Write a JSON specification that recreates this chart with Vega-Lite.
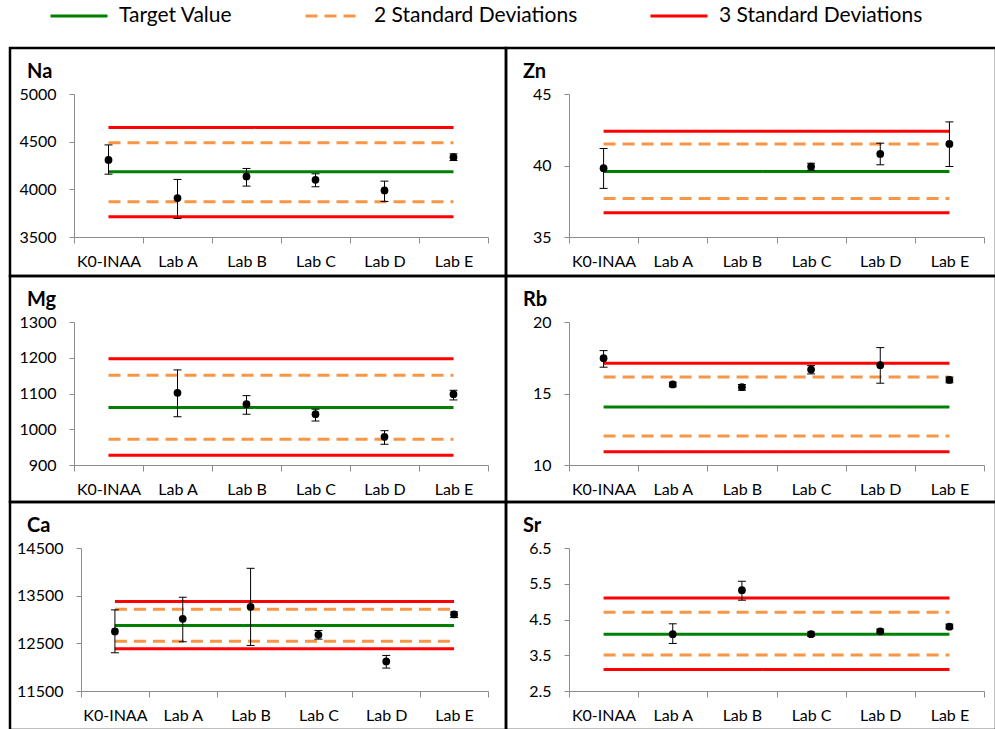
{
  "$schema": "https://vega.github.io/schema/vega-lite/v6.json",
  "padding": {"left": 8, "top": -14, "right": -3, "bottom": -3},
  "spacing": 0,
  "bounds": "flush",
  "columns": 2,
  "align": "each",
  "datasets": {
    "pts": [
      {"el": "Na", "lab": "K0-INAA", "v": 4309, "lo": 4159, "hi": 4466},
      {"el": "Na", "lab": "Lab A", "v": 3908, "lo": 3695, "hi": 4104},
      {"el": "Na", "lab": "Lab B", "v": 4135, "lo": 4034, "hi": 4219},
      {"el": "Na", "lab": "Lab C", "v": 4100, "lo": 4027, "hi": 4163},
      {"el": "Na", "lab": "Lab D", "v": 3988, "lo": 3873, "hi": 4086},
      {"el": "Na", "lab": "Lab E", "v": 4337, "lo": 4302, "hi": 4372},
      {"el": "Zn", "lab": "K0-INAA", "v": 39.81, "lo": 38.4, "hi": 41.19},
      {"el": "Zn", "lab": "Lab C", "v": 39.93, "lo": 39.67, "hi": 40.16},
      {"el": "Zn", "lab": "Lab D", "v": 40.81, "lo": 40.05, "hi": 41.56},
      {"el": "Zn", "lab": "Lab E", "v": 41.51, "lo": 39.93, "hi": 43.05},
      {"el": "Mg", "lab": "Lab A", "v": 1102, "lo": 1035, "hi": 1166},
      {"el": "Mg", "lab": "Lab B", "v": 1070, "lo": 1042, "hi": 1094},
      {"el": "Mg", "lab": "Lab C", "v": 1042, "lo": 1023, "hi": 1056},
      {"el": "Mg", "lab": "Lab D", "v": 979, "lo": 958, "hi": 996},
      {"el": "Mg", "lab": "Lab E", "v": 1098, "lo": 1082, "hi": 1109},
      {"el": "Rb", "lab": "K0-INAA", "v": 17.47, "lo": 16.84, "hi": 18.0},
      {"el": "Rb", "lab": "Lab A", "v": 15.63, "lo": 15.47, "hi": 15.79},
      {"el": "Rb", "lab": "Lab B", "v": 15.44, "lo": 15.23, "hi": 15.63},
      {"el": "Rb", "lab": "Lab C", "v": 16.67, "lo": 16.37, "hi": 16.95},
      {"el": "Rb", "lab": "Lab D", "v": 16.98, "lo": 15.72, "hi": 18.21},
      {"el": "Rb", "lab": "Lab E", "v": 15.95, "lo": 15.75, "hi": 16.15},
      {"el": "Ca", "lab": "K0-INAA", "v": 12749, "lo": 12302, "hi": 13202},
      {"el": "Ca", "lab": "Lab A", "v": 13014, "lo": 12533, "hi": 13467},
      {"el": "Ca", "lab": "Lab B", "v": 13265, "lo": 12456, "hi": 14074},
      {"el": "Ca", "lab": "Lab C", "v": 12679, "lo": 12588, "hi": 12770},
      {"el": "Ca", "lab": "Lab D", "v": 12121, "lo": 11981, "hi": 12246},
      {"el": "Ca", "lab": "Lab E", "v": 13105, "lo": 13042, "hi": 13160},
      {"el": "Sr", "lab": "Lab A", "v": 4.09, "lo": 3.83, "hi": 4.38},
      {"el": "Sr", "lab": "Lab B", "v": 5.32, "lo": 5.04, "hi": 5.57},
      {"el": "Sr", "lab": "Lab C", "v": 4.09, "lo": 4.03, "hi": 4.15},
      {"el": "Sr", "lab": "Lab D", "v": 4.17, "lo": 4.12, "hi": 4.23},
      {"el": "Sr", "lab": "Lab E", "v": 4.30, "lo": 4.24, "hi": 4.37}
    ],
    "lines": [
      {"el": "Na", "series": "Target Value", "y": 4184},
      {"el": "Na", "series": "2 Standard Deviations", "y": 4488},
      {"el": "Na", "series": "2 Standard Deviations", "y": 3870},
      {"el": "Na", "series": "3 Standard Deviations", "y": 4648},
      {"el": "Na", "series": "3 Standard Deviations", "y": 3713},
      {"el": "Zn", "series": "Target Value", "y": 39.58},
      {"el": "Zn", "series": "2 Standard Deviations", "y": 41.51},
      {"el": "Zn", "series": "2 Standard Deviations", "y": 37.7},
      {"el": "Zn", "series": "3 Standard Deviations", "y": 42.4},
      {"el": "Zn", "series": "3 Standard Deviations", "y": 36.7},
      {"el": "Mg", "series": "Target Value", "y": 1061},
      {"el": "Mg", "series": "2 Standard Deviations", "y": 1151},
      {"el": "Mg", "series": "2 Standard Deviations", "y": 972},
      {"el": "Mg", "series": "3 Standard Deviations", "y": 1197},
      {"el": "Mg", "series": "3 Standard Deviations", "y": 927},
      {"el": "Rb", "series": "Target Value", "y": 14.05},
      {"el": "Rb", "series": "2 Standard Deviations", "y": 16.16},
      {"el": "Rb", "series": "2 Standard Deviations", "y": 12.02},
      {"el": "Rb", "series": "3 Standard Deviations", "y": 17.12},
      {"el": "Rb", "series": "3 Standard Deviations", "y": 10.93},
      {"el": "Ca", "series": "Target Value", "y": 12874},
      {"el": "Ca", "series": "2 Standard Deviations", "y": 13216},
      {"el": "Ca", "series": "2 Standard Deviations", "y": 12546},
      {"el": "Ca", "series": "3 Standard Deviations", "y": 13377},
      {"el": "Ca", "series": "3 Standard Deviations", "y": 12386},
      {"el": "Sr", "series": "Target Value", "y": 4.09},
      {"el": "Sr", "series": "2 Standard Deviations", "y": 4.7},
      {"el": "Sr", "series": "2 Standard Deviations", "y": 3.51},
      {"el": "Sr", "series": "3 Standard Deviations", "y": 5.1},
      {"el": "Sr", "series": "3 Standard Deviations", "y": 3.1}
    ]
  },
  "resolve": {"scale": {"x": "independent", "y": "independent", "color": "shared", "strokeDash": "shared"}},
  "concat": [
    {
      "width": 496, "height": 228,
      "title": {"text": "Na", "dx": 17, "offset": -34},
      "layer": [
        {"data": {"name": "lines"}, "transform": [{"filter": "datum.el === 'Na'"}],
         "mark": {"type": "rule", "strokeWidth": 3},
         "encoding": {
           "x": {"datum": "K0-INAA", "type": "nominal", "title": null, "scale": {"type": "band", "domain": ["K0-INAA", "Lab A", "Lab B", "Lab C", "Lab D", "Lab E"], "range": [64, 478], "paddingInner": 0, "paddingOuter": 0}, "axis": {"offset": -39}},
           "x2": {"datum": "Lab E"},
           "y": {"field": "y", "type": "quantitative", "title": null, "scale": {"domain": [3500, 5000], "range": [189, 46], "nice": false, "zero": false}, "axis": {"values": [3500, 4000, 4500, 5000], "format": "d", "offset": -64}},
           "color": {"field": "series", "type": "nominal", "title": null, "scale": {"domain": ["Target Value", "2 Standard Deviations", "3 Standard Deviations"], "range": ["#008000", "#F79646", "#FF0000"]}},
           "strokeDash": {"field": "series", "type": "nominal", "title": null, "scale": {"domain": ["Target Value", "2 Standard Deviations", "3 Standard Deviations"], "range": [[1, 0], [12, 7], [1, 0]]}}
         }},
        {"data": {"name": "pts"}, "transform": [{"filter": "datum.el === 'Na'"}],
         "mark": {"type": "rule", "color": "black", "strokeWidth": 1},
         "encoding": {"x": {"field": "lab", "type": "nominal", "title": null}, "y": {"field": "lo", "type": "quantitative", "title": null}, "y2": {"field": "hi"}}},
        {"data": {"name": "pts"}, "transform": [{"filter": "datum.el === 'Na'"}],
         "mark": {"type": "tick", "orient": "horizontal", "size": 8, "thickness": 1, "color": "black", "opacity": 1},
         "encoding": {"x": {"field": "lab", "type": "nominal", "title": null}, "y": {"field": "lo", "type": "quantitative", "title": null}}},
        {"data": {"name": "pts"}, "transform": [{"filter": "datum.el === 'Na'"}],
         "mark": {"type": "tick", "orient": "horizontal", "size": 8, "thickness": 1, "color": "black", "opacity": 1},
         "encoding": {"x": {"field": "lab", "type": "nominal", "title": null}, "y": {"field": "hi", "type": "quantitative", "title": null}}},
        {"data": {"name": "pts"}, "transform": [{"filter": "datum.el === 'Na'"}],
         "mark": {"type": "point", "filled": true, "size": 60, "color": "black", "opacity": 1},
         "encoding": {"x": {"field": "lab", "type": "nominal", "title": null}, "y": {"field": "v", "type": "quantitative", "title": null}}}
      ]
    },
    {
      "width": 490, "height": 228,
      "title": {"text": "Zn", "dx": 17, "offset": -34},
      "layer": [
        {"data": {"name": "lines"}, "transform": [{"filter": "datum.el === 'Zn'"}],
         "mark": {"type": "rule", "strokeWidth": 3},
         "encoding": {
           "x": {"datum": "K0-INAA", "type": "nominal", "title": null, "scale": {"type": "band", "domain": ["K0-INAA", "Lab A", "Lab B", "Lab C", "Lab D", "Lab E"], "range": [63, 478], "paddingInner": 0, "paddingOuter": 0}, "axis": {"offset": -39}},
           "x2": {"datum": "Lab E"},
           "y": {"field": "y", "type": "quantitative", "title": null, "scale": {"domain": [35, 45], "range": [189, 46], "nice": false, "zero": false}, "axis": {"values": [35, 40, 45], "format": "d", "offset": -63}},
           "color": {"field": "series", "type": "nominal", "title": null, "scale": {"domain": ["Target Value", "2 Standard Deviations", "3 Standard Deviations"], "range": ["#008000", "#F79646", "#FF0000"]}},
           "strokeDash": {"field": "series", "type": "nominal", "title": null, "scale": {"domain": ["Target Value", "2 Standard Deviations", "3 Standard Deviations"], "range": [[1, 0], [12, 7], [1, 0]]}}
         }},
        {"data": {"name": "pts"}, "transform": [{"filter": "datum.el === 'Zn'"}],
         "mark": {"type": "rule", "color": "black", "strokeWidth": 1},
         "encoding": {"x": {"field": "lab", "type": "nominal", "title": null}, "y": {"field": "lo", "type": "quantitative", "title": null}, "y2": {"field": "hi"}}},
        {"data": {"name": "pts"}, "transform": [{"filter": "datum.el === 'Zn'"}],
         "mark": {"type": "tick", "orient": "horizontal", "size": 8, "thickness": 1, "color": "black", "opacity": 1},
         "encoding": {"x": {"field": "lab", "type": "nominal", "title": null}, "y": {"field": "lo", "type": "quantitative", "title": null}}},
        {"data": {"name": "pts"}, "transform": [{"filter": "datum.el === 'Zn'"}],
         "mark": {"type": "tick", "orient": "horizontal", "size": 8, "thickness": 1, "color": "black", "opacity": 1},
         "encoding": {"x": {"field": "lab", "type": "nominal", "title": null}, "y": {"field": "hi", "type": "quantitative", "title": null}}},
        {"data": {"name": "pts"}, "transform": [{"filter": "datum.el === 'Zn'"}],
         "mark": {"type": "point", "filled": true, "size": 60, "color": "black", "opacity": 1},
         "encoding": {"x": {"field": "lab", "type": "nominal", "title": null}, "y": {"field": "v", "type": "quantitative", "title": null}}}
      ]
    },
    {
      "width": 496, "height": 226,
      "title": {"text": "Mg", "dx": 17, "offset": -34},
      "layer": [
        {"data": {"name": "lines"}, "transform": [{"filter": "datum.el === 'Mg'"}],
         "mark": {"type": "rule", "strokeWidth": 3},
         "encoding": {
           "x": {"datum": "K0-INAA", "type": "nominal", "title": null, "scale": {"type": "band", "domain": ["K0-INAA", "Lab A", "Lab B", "Lab C", "Lab D", "Lab E"], "range": [64, 478], "paddingInner": 0, "paddingOuter": 0}, "axis": {"offset": -37}},
           "x2": {"datum": "Lab E"},
           "y": {"field": "y", "type": "quantitative", "title": null, "scale": {"domain": [900, 1300], "range": [189, 46], "nice": false, "zero": false}, "axis": {"values": [900, 1000, 1100, 1200, 1300], "format": "d", "offset": -64}},
           "color": {"field": "series", "type": "nominal", "title": null, "scale": {"domain": ["Target Value", "2 Standard Deviations", "3 Standard Deviations"], "range": ["#008000", "#F79646", "#FF0000"]}},
           "strokeDash": {"field": "series", "type": "nominal", "title": null, "scale": {"domain": ["Target Value", "2 Standard Deviations", "3 Standard Deviations"], "range": [[1, 0], [12, 7], [1, 0]]}}
         }},
        {"data": {"name": "pts"}, "transform": [{"filter": "datum.el === 'Mg'"}],
         "mark": {"type": "rule", "color": "black", "strokeWidth": 1},
         "encoding": {"x": {"field": "lab", "type": "nominal", "title": null}, "y": {"field": "lo", "type": "quantitative", "title": null}, "y2": {"field": "hi"}}},
        {"data": {"name": "pts"}, "transform": [{"filter": "datum.el === 'Mg'"}],
         "mark": {"type": "tick", "orient": "horizontal", "size": 8, "thickness": 1, "color": "black", "opacity": 1},
         "encoding": {"x": {"field": "lab", "type": "nominal", "title": null}, "y": {"field": "lo", "type": "quantitative", "title": null}}},
        {"data": {"name": "pts"}, "transform": [{"filter": "datum.el === 'Mg'"}],
         "mark": {"type": "tick", "orient": "horizontal", "size": 8, "thickness": 1, "color": "black", "opacity": 1},
         "encoding": {"x": {"field": "lab", "type": "nominal", "title": null}, "y": {"field": "hi", "type": "quantitative", "title": null}}},
        {"data": {"name": "pts"}, "transform": [{"filter": "datum.el === 'Mg'"}],
         "mark": {"type": "point", "filled": true, "size": 60, "color": "black", "opacity": 1},
         "encoding": {"x": {"field": "lab", "type": "nominal", "title": null}, "y": {"field": "v", "type": "quantitative", "title": null}}}
      ]
    },
    {
      "width": 490, "height": 226,
      "title": {"text": "Rb", "dx": 17, "offset": -34},
      "layer": [
        {"data": {"name": "lines"}, "transform": [{"filter": "datum.el === 'Rb'"}],
         "mark": {"type": "rule", "strokeWidth": 3},
         "encoding": {
           "x": {"datum": "K0-INAA", "type": "nominal", "title": null, "scale": {"type": "band", "domain": ["K0-INAA", "Lab A", "Lab B", "Lab C", "Lab D", "Lab E"], "range": [63, 478], "paddingInner": 0, "paddingOuter": 0}, "axis": {"offset": -37}},
           "x2": {"datum": "Lab E"},
           "y": {"field": "y", "type": "quantitative", "title": null, "scale": {"domain": [10, 20], "range": [189, 46], "nice": false, "zero": false}, "axis": {"values": [10, 15, 20], "format": "d", "offset": -63}},
           "color": {"field": "series", "type": "nominal", "title": null, "scale": {"domain": ["Target Value", "2 Standard Deviations", "3 Standard Deviations"], "range": ["#008000", "#F79646", "#FF0000"]}},
           "strokeDash": {"field": "series", "type": "nominal", "title": null, "scale": {"domain": ["Target Value", "2 Standard Deviations", "3 Standard Deviations"], "range": [[1, 0], [12, 7], [1, 0]]}}
         }},
        {"data": {"name": "pts"}, "transform": [{"filter": "datum.el === 'Rb'"}],
         "mark": {"type": "rule", "color": "black", "strokeWidth": 1},
         "encoding": {"x": {"field": "lab", "type": "nominal", "title": null}, "y": {"field": "lo", "type": "quantitative", "title": null}, "y2": {"field": "hi"}}},
        {"data": {"name": "pts"}, "transform": [{"filter": "datum.el === 'Rb'"}],
         "mark": {"type": "tick", "orient": "horizontal", "size": 8, "thickness": 1, "color": "black", "opacity": 1},
         "encoding": {"x": {"field": "lab", "type": "nominal", "title": null}, "y": {"field": "lo", "type": "quantitative", "title": null}}},
        {"data": {"name": "pts"}, "transform": [{"filter": "datum.el === 'Rb'"}],
         "mark": {"type": "tick", "orient": "horizontal", "size": 8, "thickness": 1, "color": "black", "opacity": 1},
         "encoding": {"x": {"field": "lab", "type": "nominal", "title": null}, "y": {"field": "hi", "type": "quantitative", "title": null}}},
        {"data": {"name": "pts"}, "transform": [{"filter": "datum.el === 'Rb'"}],
         "mark": {"type": "point", "filled": true, "size": 60, "color": "black", "opacity": 1},
         "encoding": {"x": {"field": "lab", "type": "nominal", "title": null}, "y": {"field": "v", "type": "quantitative", "title": null}}}
      ]
    },
    {
      "width": 496, "height": 228,
      "title": {"text": "Ca", "dx": 17, "offset": -34},
      "layer": [
        {"data": {"name": "lines"}, "transform": [{"filter": "datum.el === 'Ca'"}],
         "mark": {"type": "rule", "strokeWidth": 3},
         "encoding": {
           "x": {"datum": "K0-INAA", "type": "nominal", "title": null, "scale": {"type": "band", "domain": ["K0-INAA", "Lab A", "Lab B", "Lab C", "Lab D", "Lab E"], "range": [71, 478], "paddingInner": 0, "paddingOuter": 0}, "axis": {"offset": -39}},
           "x2": {"datum": "Lab E"},
           "y": {"field": "y", "type": "quantitative", "title": null, "scale": {"domain": [11500, 14500], "range": [189, 46], "nice": false, "zero": false}, "axis": {"values": [11500, 12500, 13500, 14500], "format": "d", "offset": -71}},
           "color": {"field": "series", "type": "nominal", "title": null, "scale": {"domain": ["Target Value", "2 Standard Deviations", "3 Standard Deviations"], "range": ["#008000", "#F79646", "#FF0000"]}},
           "strokeDash": {"field": "series", "type": "nominal", "title": null, "scale": {"domain": ["Target Value", "2 Standard Deviations", "3 Standard Deviations"], "range": [[1, 0], [12, 7], [1, 0]]}}
         }},
        {"data": {"name": "pts"}, "transform": [{"filter": "datum.el === 'Ca'"}],
         "mark": {"type": "rule", "color": "black", "strokeWidth": 1},
         "encoding": {"x": {"field": "lab", "type": "nominal", "title": null}, "y": {"field": "lo", "type": "quantitative", "title": null}, "y2": {"field": "hi"}}},
        {"data": {"name": "pts"}, "transform": [{"filter": "datum.el === 'Ca'"}],
         "mark": {"type": "tick", "orient": "horizontal", "size": 8, "thickness": 1, "color": "black", "opacity": 1},
         "encoding": {"x": {"field": "lab", "type": "nominal", "title": null}, "y": {"field": "lo", "type": "quantitative", "title": null}}},
        {"data": {"name": "pts"}, "transform": [{"filter": "datum.el === 'Ca'"}],
         "mark": {"type": "tick", "orient": "horizontal", "size": 8, "thickness": 1, "color": "black", "opacity": 1},
         "encoding": {"x": {"field": "lab", "type": "nominal", "title": null}, "y": {"field": "hi", "type": "quantitative", "title": null}}},
        {"data": {"name": "pts"}, "transform": [{"filter": "datum.el === 'Ca'"}],
         "mark": {"type": "point", "filled": true, "size": 60, "color": "black", "opacity": 1},
         "encoding": {"x": {"field": "lab", "type": "nominal", "title": null}, "y": {"field": "v", "type": "quantitative", "title": null}}}
      ]
    },
    {
      "width": 490, "height": 228,
      "title": {"text": "Sr", "dx": 17, "offset": -34},
      "layer": [
        {"data": {"name": "lines"}, "transform": [{"filter": "datum.el === 'Sr'"}],
         "mark": {"type": "rule", "strokeWidth": 3},
         "encoding": {
           "x": {"datum": "K0-INAA", "type": "nominal", "title": null, "scale": {"type": "band", "domain": ["K0-INAA", "Lab A", "Lab B", "Lab C", "Lab D", "Lab E"], "range": [63, 478], "paddingInner": 0, "paddingOuter": 0}, "axis": {"offset": -39}},
           "x2": {"datum": "Lab E"},
           "y": {"field": "y", "type": "quantitative", "title": null, "scale": {"domain": [2.5, 6.5], "range": [189, 46], "nice": false, "zero": false}, "axis": {"values": [2.5, 3.5, 4.5, 5.5, 6.5], "format": ".1f", "offset": -63}},
           "color": {"field": "series", "type": "nominal", "title": null, "scale": {"domain": ["Target Value", "2 Standard Deviations", "3 Standard Deviations"], "range": ["#008000", "#F79646", "#FF0000"]}},
           "strokeDash": {"field": "series", "type": "nominal", "title": null, "scale": {"domain": ["Target Value", "2 Standard Deviations", "3 Standard Deviations"], "range": [[1, 0], [12, 7], [1, 0]]}}
         }},
        {"data": {"name": "pts"}, "transform": [{"filter": "datum.el === 'Sr'"}],
         "mark": {"type": "rule", "color": "black", "strokeWidth": 1},
         "encoding": {"x": {"field": "lab", "type": "nominal", "title": null}, "y": {"field": "lo", "type": "quantitative", "title": null}, "y2": {"field": "hi"}}},
        {"data": {"name": "pts"}, "transform": [{"filter": "datum.el === 'Sr'"}],
         "mark": {"type": "tick", "orient": "horizontal", "size": 8, "thickness": 1, "color": "black", "opacity": 1},
         "encoding": {"x": {"field": "lab", "type": "nominal", "title": null}, "y": {"field": "lo", "type": "quantitative", "title": null}}},
        {"data": {"name": "pts"}, "transform": [{"filter": "datum.el === 'Sr'"}],
         "mark": {"type": "tick", "orient": "horizontal", "size": 8, "thickness": 1, "color": "black", "opacity": 1},
         "encoding": {"x": {"field": "lab", "type": "nominal", "title": null}, "y": {"field": "hi", "type": "quantitative", "title": null}}},
        {"data": {"name": "pts"}, "transform": [{"filter": "datum.el === 'Sr'"}],
         "mark": {"type": "point", "filled": true, "size": 60, "color": "black", "opacity": 1},
         "encoding": {"x": {"field": "lab", "type": "nominal", "title": null}, "y": {"field": "v", "type": "quantitative", "title": null}}}
      ]
    }
  ],
  "config": {
    "font": "Lato",
    "view": {"stroke": "black", "strokeWidth": 2.5},
    "axis": {"grid": false, "domainColor": "#8c8c8c", "tickColor": "#8c8c8c", "labelColor": "black", "labelFont": "Lato", "labelFontSize": 16, "domainWidth": 1, "tickWidth": 1, "labelOverlap": false, "labelFlush": false},
    "axisX": {"labelAngle": 0, "tickBand": "extent", "tickSize": 6, "labelPadding": 10},
    "axisY": {"tickSize": 5, "labelPadding": 13},
    "title": {"font": "Lato", "fontSize": 20, "fontWeight": "bold", "anchor": "start", "frame": "group", "color": "black"},
    "legend": {"orient": "none", "legendX": 39, "legendY": -62, "direction": "horizontal", "symbolType": "stroke", "symbolSize": 3249, "symbolStrokeWidth": 3, "labelFont": "Lato", "labelFontSize": 21, "labelColor": "black", "labelOffset": 10, "labelLimit": 400, "columnPadding": 66, "padding": 0}
  }
}
